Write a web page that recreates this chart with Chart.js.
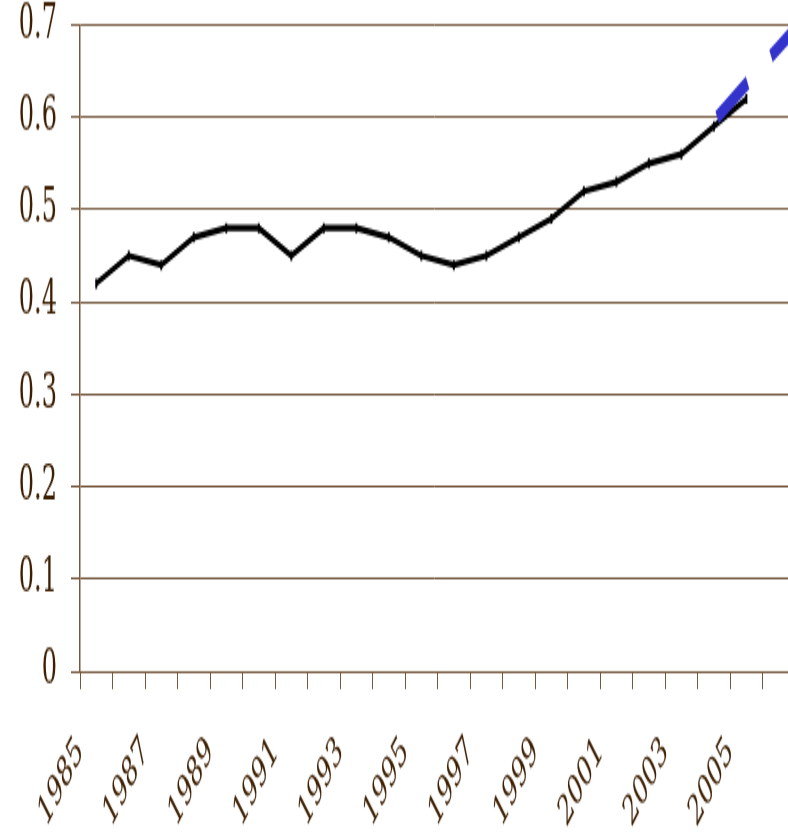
<!DOCTYPE html>
<html lang="en">
<head>
<meta charset="UTF-8">
<title>Ratio 1985-2005</title>
<script src="https://cdn.jsdelivr.net/npm/chart.js"></script>
<style>
    html, body { margin: 0; padding: 0; background: #fff; overflow: hidden; }
</style>
</head>
<body>
<!-- the reference looks stretched 2x in height, so draw at half height and let css stretch it -->
<canvas id="chart" width="788" height="418" style="width:788px;height:835px"></canvas>
<script>
    var years = [1985, 1986, 1987, 1988, 1989, 1990, 1991, 1992, 1993, 1994, 1995,
                 1996, 1997, 1998, 1999, 2000, 2001, 2002, 2003, 2004, 2005];
    var values = [0.42, 0.45, 0.44, 0.47, 0.48, 0.48, 0.45, 0.48, 0.48, 0.47, 0.45,
                  0.44, 0.45, 0.47, 0.49, 0.52, 0.53, 0.55, 0.56, 0.59, 0.62];
    // dashed blue trend line
    var trendYears = [2004.1, 2006.6];
    var trendValues = [0.60, 0.70];
    var yTickValues = [0, 0.1, 0.2, 0.3, 0.4, 0.5, 0.6, 0.7];

    var brown = '#76593f';
    var textBrown = '#3d1f02';

    // tick marks sit between the years, a label on every other one
    var xTickValues = years.map(function (y) { return y - 0.5; });
    xTickValues.push(years[years.length - 1] + 0.5);

    var ctx = document.getElementById('chart').getContext('2d');
    var chart = new Chart(ctx, {
        type: 'line',
        data: {
            datasets: [
                {
                    label: 'trend',
                    data: trendYears.map(function (x, i) { return { x: x, y: trendValues[i] }; }),
                    borderColor: '#3333cc',
                    borderWidth: 7,
                    borderDash: [35, 27],
                    borderCapStyle: 'butt',
                    pointRadius: 0,
                    order: 0
                },
                {
                    label: 'value',
                    data: years.map(function (x, i) { return { x: x, y: values[i] }; }),
                    borderColor: '#000',
                    borderWidth: 3.2,
                    tension: 0,
                    pointStyle: 'line',
                    rotation: 90,
                    pointRadius: 2.5,
                    pointBorderWidth: 2,
                    pointBorderColor: '#000',
                    order: 1
                }
            ]
        },
        options: {
            responsive: false,
            animation: false,
            layout: { autoPadding: false, padding: { top: 12.5, right: 0, left: 0, bottom: 0 } },
            plugins: {
                legend: { display: false },
                tooltip: { enabled: false }
            },
            scales: {
                x: {
                    type: 'linear',
                    min: 1984.5,
                    max: 2006.28,
                    afterBuildTicks: function (scale) {
                        scale.ticks = xTickValues.map(function (v) { return { value: v }; });
                    },
                    afterFit: function (scale) {
                        scale.height = 82;
                        scale.paddingLeft = 0;
                        scale.paddingRight = 0;
                    },
                    grid: { drawOnChartArea: false, drawTicks: true, tickLength: 9, color: brown, lineWidth: 1 },
                    border: { display: true, color: brown, width: 1 },
                    ticks: {
                        autoSkip: false,
                        minRotation: 45,
                        maxRotation: 45,
                        padding: 19,
                        color: textBrown,
                        font: { family: 'DejaVu Serif', size: 21 },
                        callback: function (value, index) {
                            return index % 2 === 0 ? String(value + 0.5) : '';
                        }
                    }
                },
                y: {
                    min: 0,
                    max: 0.7,
                    afterBuildTicks: function (scale) {
                        scale.ticks = yTickValues.map(function (v) { return { value: v }; });
                    },
                    afterFit: function (scale) {
                        scale.width = 80;
                        scale.paddingTop = 0;
                        scale.paddingBottom = 0;
                    },
                    grid: { color: brown, lineWidth: 1, tickLength: 9 },
                    border: { display: true, color: brown, width: 1.5 },
                    ticks: {
                        padding: 14,
                        color: textBrown,
                        font: { family: 'DejaVu Serif', size: 24 },
                        callback: function (value) { return String(Math.round(value * 10) / 10); }
                    }
                }
            }
        }
    });
</script>
</body>
</html>
